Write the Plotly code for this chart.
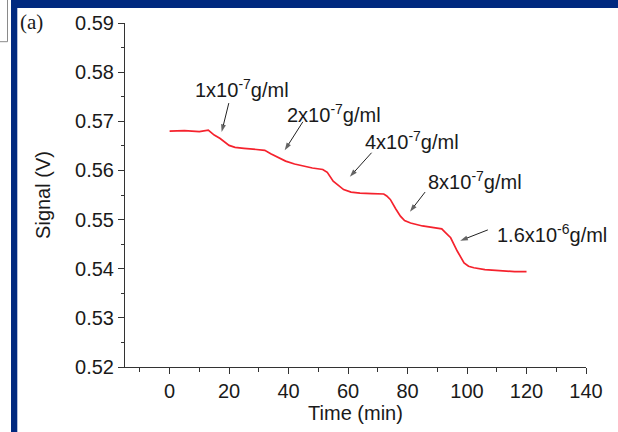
import plotly.graph_objects as go

# Data
time_min = [0, 5, 10, 12.5, 13, 15, 17, 20, 22, 25, 29, 32, 34, 36, 39, 42, 45, 48, 51.5,
            53, 55, 57, 58.5, 61, 64, 68, 72, 73, 74.2, 76, 77.6, 79, 81, 85, 88.8, 91.5,
            92.5, 94.5, 96.7, 99, 100.5, 102.3, 106, 111, 116, 120]
signal_v = [0.5680, 0.5681, 0.5679, 0.5681, 0.5682, 0.5672, 0.5665, 0.5651, 0.5647, 0.5645,
            0.5643, 0.5641, 0.5634, 0.5628, 0.5619, 0.5613, 0.5609, 0.5605, 0.5602,
            0.5596, 0.5578, 0.5568, 0.5561, 0.5556, 0.5554, 0.5553, 0.5552, 0.5548, 0.5541,
            0.5522, 0.5507, 0.5498, 0.5493, 0.5487, 0.5483, 0.5481,
            0.5475, 0.5463, 0.5436, 0.5412, 0.5405, 0.5402, 0.5398, 0.5396, 0.5394, 0.5394]

label_texts = ["1x10<sup>-7</sup>g/ml", "2x10<sup>-7</sup>g/ml", "4x10<sup>-7</sup>g/ml",
               "8x10<sup>-7</sup>g/ml", "1.6x10<sup>-6</sup>g/ml"]
label_t = [24.2, 55.2, 81.5, 102.7, 128.7]
label_v = [0.5767, 0.5716, 0.5661, 0.5580, 0.5472]
arrow_tail_t = [19.9, 44.8, 67.9, 85.9, 107.0]
arrow_tail_v = [0.5737, 0.5699, 0.5636, 0.5556, 0.5479]
arrow_tip_t = [17.5, 38.7, 60.6, 80.8, 97.7]
arrow_tip_v = [0.5678, 0.5641, 0.5587, 0.5516, 0.5457]

x_ticks = [0, 20, 40, 60, 80, 100, 120, 140]
y_ticks = [0.52, 0.53, 0.54, 0.55, 0.56, 0.57, 0.58, 0.59]

FONT = "Liberation Sans, Arial, sans-serif"
FS = 20
TXT = "#1a1a1a"
NAVY = "#00297f"

L, R, T, B = 125, 32, 23, 65
W, H = 618, 432
pw, ph = W - L - R, H - T - B
def px(x):
    return (x - L) / pw
def py(y):
    return (H - B - y) / ph

fig = go.Figure()
fig.add_trace(go.Scatter(x=time_min, y=signal_v, mode="lines",
                         line=dict(color="#f5222d", width=1.7), showlegend=False,
                         hoverinfo="skip"))

for at, av, pt, pv in zip(arrow_tail_t, arrow_tail_v, arrow_tip_t, arrow_tip_v):
    fig.add_trace(go.Scatter(
        x=[at, pt], y=[av, pv], mode="lines+markers",
        line=dict(color="#222222", width=1),
        marker=dict(symbol=["circle", "arrow"], size=[0.1, 8], angleref="previous",
                    color="#222222", line=dict(width=0)),
        showlegend=False, hoverinfo="skip"))

annotations = []
for txt, tx, tv in zip(label_texts, label_t, label_v):
    annotations.append(dict(x=tx, y=tv, xref="x", yref="y", text=txt, showarrow=False,
                            font=dict(family=FONT, size=FS, color=TXT)))
annotations.append(dict(x=px(18), y=py(22), xref="paper", yref="paper", text="(a)",
                        showarrow=False, xanchor="left", yanchor="middle",
                        font=dict(family="Liberation Serif, Times New Roman, serif",
                                  size=21, color=TXT)))

shapes = [
    dict(type="rect", xref="paper", yref="paper", x0=px(11), x1=px(620),
         y0=py(8), y1=py(-2), fillcolor=NAVY, line=dict(width=0), layer="above"),
    dict(type="rect", xref="paper", yref="paper", x0=px(11), x1=px(17.3),
         y0=py(434), y1=py(-2), fillcolor=NAVY, line=dict(width=0), layer="above"),
    dict(type="rect", xref="paper", yref="paper", x0=px(-3), x1=px(7.5),
         y0=py(41.7), y1=py(-3), fillcolor="white", line=dict(color="#8a8a8a", width=1)),
]

fig.update_layout(
    width=W, height=H,
    margin=dict(l=L, r=R, t=T, b=B),
    paper_bgcolor="white", plot_bgcolor="white",
    annotations=annotations, shapes=shapes,
    xaxis=dict(range=[-15, 140], tickvals=x_ticks, ticks="outside", ticklen=6,
               tickwidth=1, tickcolor="#333", showline=True, linecolor="#333", linewidth=1,
               showgrid=False, zeroline=False,
               minor=dict(dtick=10, tick0=0, ticks="outside", ticklen=3.5, tickcolor="#333"),
               tickfont=dict(family=FONT, size=FS, color=TXT),
               title=dict(text="Time (min)", font=dict(family=FONT, size=FS, color=TXT), standoff=4)),
    yaxis=dict(range=[0.52, 0.59], tickvals=y_ticks, tickformat=".2f", ticks="outside",
               ticklen=6, tickwidth=1, tickcolor="#333", showline=True, linecolor="#333",
               linewidth=1, showgrid=False, zeroline=False,
               minor=dict(dtick=0.005, tick0=0.52, ticks="outside", ticklen=3.5, tickcolor="#333"),
               tickfont=dict(family=FONT, size=FS, color=TXT),
               title=dict(text="Signal (V)", font=dict(family=FONT, size=FS, color=TXT), standoff=19)),
)

fig.write_html("out.html", config={"displayModeBar": False},
               post_script="document.body.style.margin='0';document.body.style.overflow='hidden';")
